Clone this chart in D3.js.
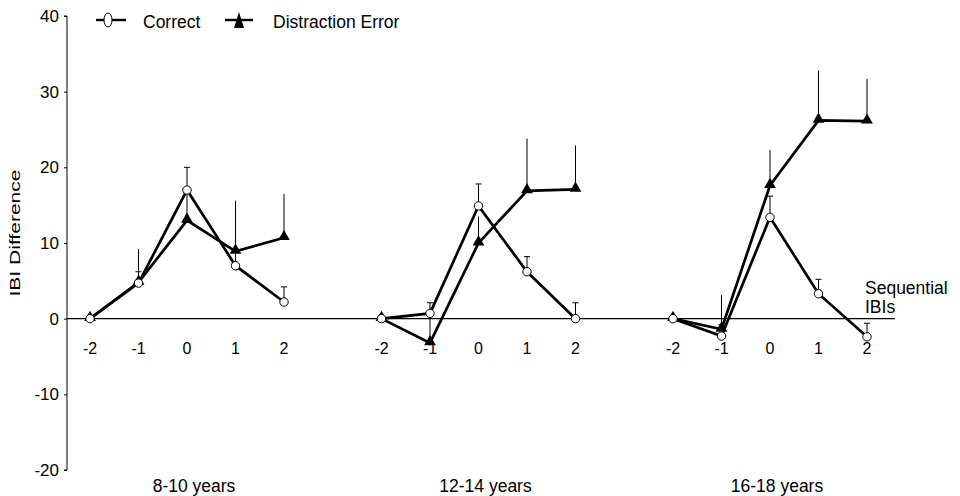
<!DOCTYPE html>
<html>
<head>
<meta charset="utf-8">
<script src="https://cdn.jsdelivr.net/npm/d3@7"></script>
<style>
  body { margin: 0; background: #fff; }
  svg { font-family: "Liberation Sans", Arial, sans-serif; }
</style>
</head>
<body>
<div id="chart"></div>
<script>
const groups = ["8-10 years", "12-14 years", "16-18 years"];
const positions = [-2, -1, 0, 1, 2];

// mean IBI difference per group, per position
const correct = [
  [0, 4.7, 17.0, 7.0, 2.2],
  [0, 0.7, 14.9, 6.2, 0.0],
  [0, -2.3, 13.4, 3.3, -2.4]
];
const correctErr = [
  [0, 6.2, 20.0, 8.8, 4.2],
  [0, 2.1, 17.8, 8.2, 2.1],
  [0, -0.8, 16.2, 5.2, -0.6]
];
const distraction = [
  [0, 4.8, 13.0, 8.9, 10.7],
  [0, -3.2, 10.0, 16.9, 17.1],
  [0, -1.4, 17.6, 26.2, 26.1]
];
const distractionErr = [
  [0, 9.2, 16.5, 15.6, 16.5],
  [0, 1.0, 13.5, 23.8, 22.9],
  [0, 3.1, 22.3, 32.8, 31.7]
];
const yTicks = [-20, -10, 0, 10, 20, 30, 40];

const width = 960, height = 496;
const axisX = 67;

const svg = d3.select("#chart").append("svg")
  .attr("width", width)
  .attr("height", height);

const y = d3.scaleLinear().domain([-20, 40]).range([470, 16]);
const gx = d3.scalePoint().domain(groups).range([187, 770]);
const x = d3.scaleLinear().domain([-2, 2]).range([-97, 97]);

// y axis
const yAxis = svg.append("g")
  .attr("transform", `translate(${axisX},0)`)
  .call(d3.axisLeft(y).tickValues(yTicks).tickSize(3).tickPadding(5).tickFormat(d => String(d)));
yAxis.select(".domain").attr("d", `M-3,${y(40)}H0V${y(-20)}H-3`).attr("stroke", "#000");
yAxis.selectAll(".tick line").attr("stroke", "#000");
yAxis.selectAll(".tick text").attr("font-size", 17).attr("fill", "#000")
  .attr("font-family", "'Liberation Sans', Arial, sans-serif");

svg.append("text")
  .attr("transform", `translate(20,233) rotate(-90)`)
  .attr("text-anchor", "middle")
  .attr("font-size", 15.5)
  .attr("textLength", 127)
  .attr("lengthAdjust", "spacingAndGlyphs")
  .text("IBI Difference");

// zero line
svg.append("line")
  .attr("x1", axisX).attr("x2", 895)
  .attr("y1", y(0)).attr("y2", y(0))
  .attr("stroke", "#000").attr("stroke-width", 1.3);

const tri = d3.symbol().type(d3.symbolTriangle).size(60);

groups.forEach((g, gi) => {
  const cx = gx(g);
  const G = svg.append("g").attr("transform", `translate(${cx},0)`);

  G.selectAll(".pos").data(positions).join("text")
    .attr("x", d => x(d))
    .attr("y", y(0) + 35)
    .attr("text-anchor", "middle")
    .attr("font-size", 16)
    .text(d => String(d));

  svg.append("text")
    .attr("x", cx + 7).attr("y", 492)
    .attr("text-anchor", "middle")
    .attr("font-size", 17.5)
    .text(g);

  // error bars: distraction (no cap), correct (cap)
  G.selectAll(".errD").data(positions).join("line")
    .attr("x1", d => x(d)).attr("x2", d => x(d))
    .attr("y1", (d, i) => y(distraction[gi][i]))
    .attr("y2", (d, i) => y(distractionErr[gi][i]))
    .attr("stroke", "#000").attr("stroke-width", 1);
  G.selectAll(".errC").data(positions).join("path")
    .attr("d", (d, i) => {
      const px = x(d), top = y(correctErr[gi][i]);
      if (i === 0) return null;
      return `M${px},${y(correct[gi][i])}V${top}M${px - 3},${top}H${px + 3}`;
    })
    .attr("fill", "none")
    .attr("stroke", "#000").attr("stroke-width", 1);

  const line = d3.line().x((d, i) => x(positions[i])).y(d => y(d));

  G.append("path").datum(distraction[gi])
    .attr("d", line).attr("fill", "none")
    .attr("stroke", "#000").attr("stroke-width", 2.7);
  G.append("path").datum(correct[gi])
    .attr("d", line).attr("fill", "none")
    .attr("stroke", "#000").attr("stroke-width", 2.7);

  G.selectAll(".dpt").data(distraction[gi]).join("path")
    .attr("d", tri)
    .attr("transform", (d, i) => `translate(${x(positions[i])},${y(d) - 1})`)
    .attr("fill", "#000");
  G.selectAll(".cpt").data(correct[gi]).join("circle")
    .attr("cx", (d, i) => x(positions[i]))
    .attr("cy", d => y(d))
    .attr("r", 4.2)
    .attr("fill", "#fff").attr("stroke", "#000").attr("stroke-width", 1);
});

// Sequential IBIs label
svg.append("text").attr("x", 865).attr("y", 294).attr("font-size", 17.5).text("Sequential");
svg.append("text").attr("x", 865).attr("y", 313).attr("font-size", 17.5).text("IBIs");

// legend
const leg = svg.append("g");
leg.append("line").attr("x1", 96).attr("x2", 126).attr("y1", 20).attr("y2", 20)
  .attr("stroke", "#000").attr("stroke-width", 2.4);
leg.append("ellipse").attr("cx", 108).attr("cy", 20).attr("rx", 4).attr("ry", 7)
  .attr("fill", "#fff").attr("stroke", "#000").attr("stroke-width", 1);
leg.append("text").attr("x", 143).attr("y", 28).attr("font-size", 17.5).text("Correct");
leg.append("line").attr("x1", 225).attr("x2", 253).attr("y1", 20).attr("y2", 20)
  .attr("stroke", "#000").attr("stroke-width", 2.4);
leg.append("path").attr("d", "M0,-8L5,8L-5,8Z")
  .attr("transform", "translate(239,20)").attr("fill", "#000");
leg.append("text").attr("x", 273).attr("y", 28).attr("font-size", 17.5).text("Distraction Error");
</script>
</body>
</html>
